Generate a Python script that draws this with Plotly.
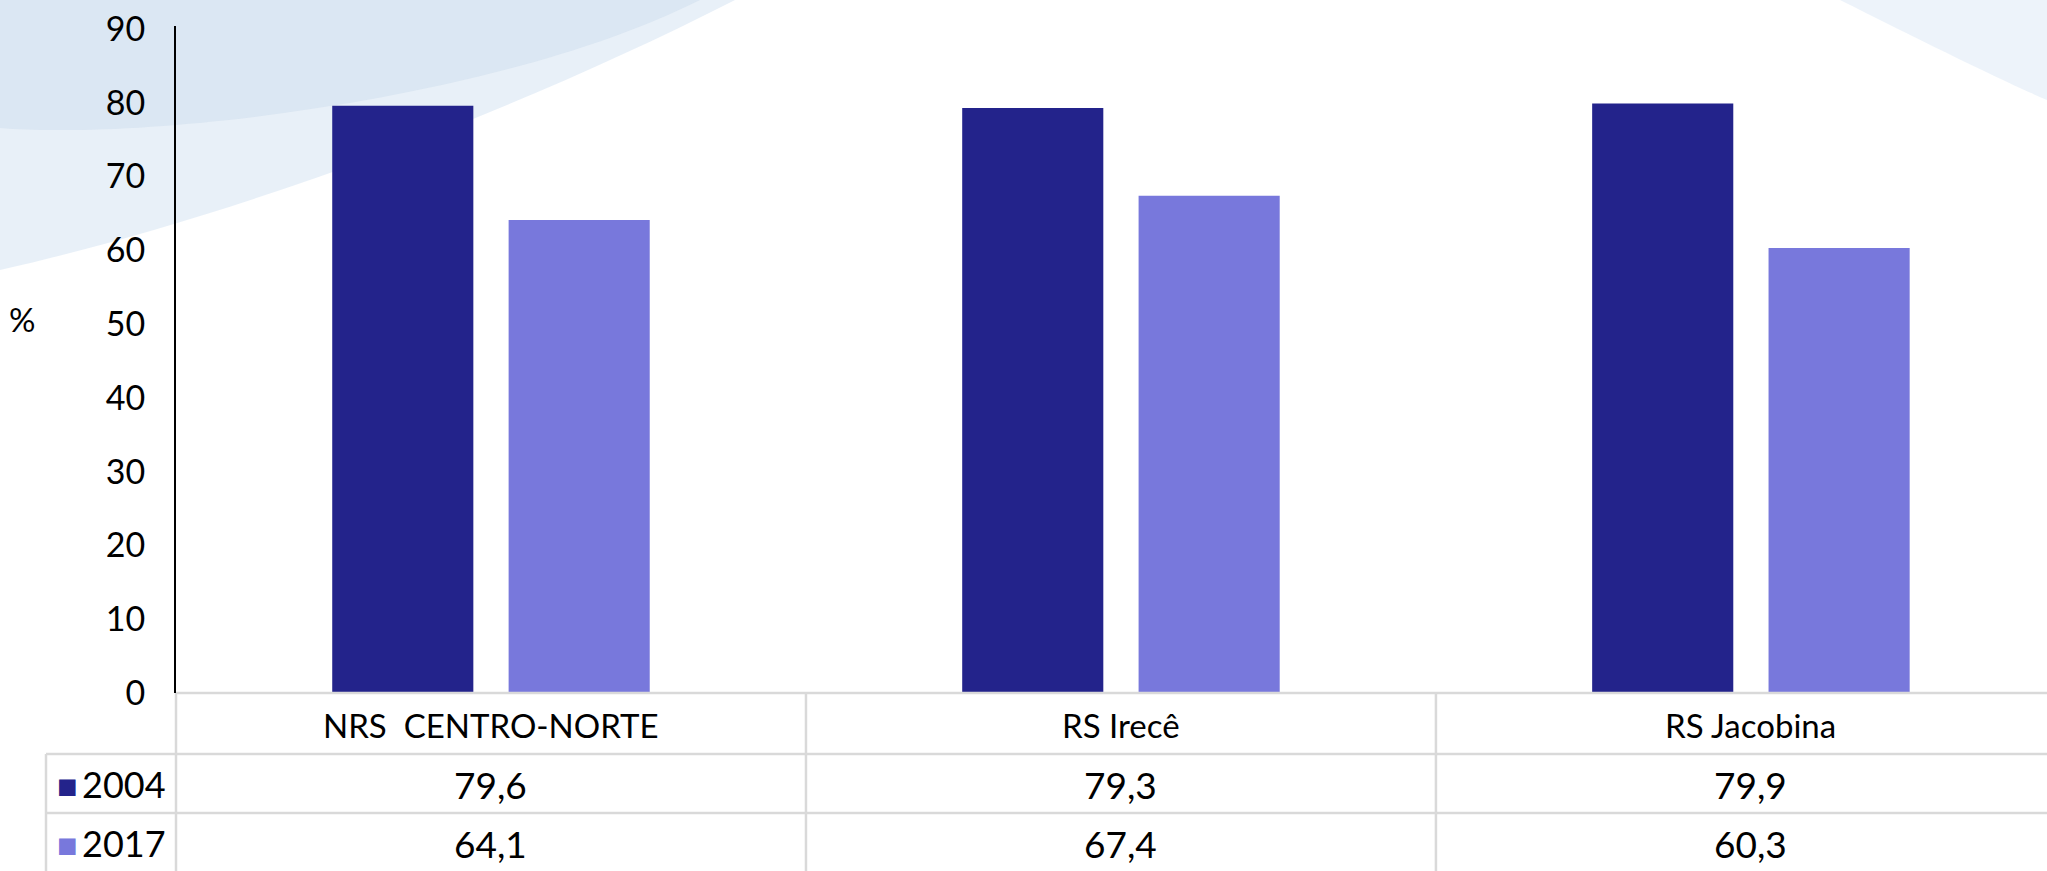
import plotly.graph_objects as go

regions = ["NRS  CENTRO-NORTE", "RS Irecê", "RS Jacobina"]
years = ["2004", "2017"]
values_2004 = [79.6, 79.3, 79.9]
values_2017 = [64.1, 67.4, 60.3]
y_ticks = [0, 10, 20, 30, 40, 50, 60, 70, 80, 90]

dark = "#23238b"
light = "#7878dc"
grid = "#d9d9d9"
font_name = "Lato"

W, H = 2047, 871


def px(x):
    return x / W


def py(y):
    return 1 - y / H


fig = go.Figure()

fig.add_trace(go.Bar(x=regions, y=values_2004, name=years[0], marker_color=dark,
                     marker_line_width=0, showlegend=False))
fig.add_trace(go.Bar(x=regions, y=values_2017, name=years[1], marker_color=light,
                     marker_line_width=0, showlegend=False))

# background swooshes
shapes = [
    dict(type="path", xref="paper", yref="paper", layer="below", line_width=0,
         fillcolor="rgba(226,236,246,0.8)",
         path=f"M 0 1 L 0 {py(270)} C {px(200)} {py(225)}, {px(480)} {py(130)}, {px(735)} 1 Z"),
    dict(type="path", xref="paper", yref="paper", layer="below", line_width=0,
         fillcolor="rgba(205,222,238,0.5)",
         path=f"M 0 1 L 0 {py(128)} C {px(150)} {py(140)}, {px(500)} {py(100)}, {px(700)} 1 Z"),
    dict(type="path", xref="paper", yref="paper", layer="below", line_width=0,
         fillcolor="rgba(232,240,249,0.8)",
         path=f"M {px(1840)} 1 C {px(1920)} {py(40)}, {px(2000)} {py(80)}, 1 {py(100)} L 1 1 Z"),
]

# table grid
line = dict(color=grid, width=2.5)
shapes += [
    dict(type="line", xref="paper", yref="paper", x0=px(176), x1=1, y0=py(693), y1=py(693), line=line),
    dict(type="line", xref="paper", yref="paper", x0=px(46), x1=1, y0=py(754), y1=py(754), line=line),
    dict(type="line", xref="paper", yref="paper", x0=px(46), x1=1, y0=py(813), y1=py(813), line=line),
    dict(type="line", xref="paper", yref="paper", x0=px(46), x1=px(46), y0=0, y1=py(754), line=line),
    dict(type="line", xref="paper", yref="paper", x0=px(176), x1=px(176), y0=0, y1=py(693), line=line),
]
for i in range(len(regions) - 1):
    shapes.append(dict(type="line", xref="x", yref="paper", x0=i + 0.5, x1=i + 0.5,
                       y0=0, y1=py(693), line=line))

annotations = [dict(text="%", x=px(22), y=py(319), xref="paper", yref="paper",
                    xanchor="center", yanchor="middle", showarrow=False,
                    font=dict(size=33))]

row_y = [py(784), py(843)]
row_colors = [dark, light]
for name, yy, col in zip(years, row_y, row_colors):
    annotations.append(dict(
        text=f'<span style="color:{col};font-size:34px">■</span>\u2009{name}',
        x=px(55), y=yy, xref="paper", yref="paper", xanchor="left", yanchor="middle",
        showarrow=False, font=dict(size=36)))

for i, reg in enumerate(regions):
    annotations.append(dict(text=reg, x=i, y=py(725), xref="x", yref="paper",
                            xanchor="center", yanchor="middle",
                            showarrow=False, font=dict(size=33)))
    for vals, yy in zip([values_2004, values_2017], row_y):
        annotations.append(dict(text=f"{vals[i]:.1f}".replace(".", ","), x=i, y=yy,
                                xref="x", yref="paper", xanchor="center",
                                yanchor="middle", showarrow=False,
                                font=dict(size=37)))

fig.update_xaxes(domain=[px(176), 1], range=[-0.5, 2.47], showticklabels=False,
                 showline=False, showgrid=False, zeroline=False, ticks="",
                 automargin=False)
fig.update_yaxes(domain=[py(693), py(26)], range=[0, 90.4], tickvals=y_ticks,
                 showline=True, linecolor="black", linewidth=2, showgrid=False,
                 zeroline=False, ticks="outside", ticklen=22,
                 tickcolor="rgba(0,0,0,0)", tickfont=dict(size=34),
                 automargin=False)

fig.update_layout(
    width=W, height=H,
    margin=dict(l=0, r=0, t=0, b=0, autoexpand=False),
    barmode="group", bargap=0.44, bargroupgap=0.2,
    paper_bgcolor="white", plot_bgcolor="rgba(0,0,0,0)",
    font=dict(family=font_name, size=33, color="black"),
    shapes=shapes, annotations=annotations,
)

fig.write_html("out.html", config={"displayModeBar": False},
               post_script="document.documentElement.style.overflow='hidden';"
                           "document.body.style.margin='0';")
